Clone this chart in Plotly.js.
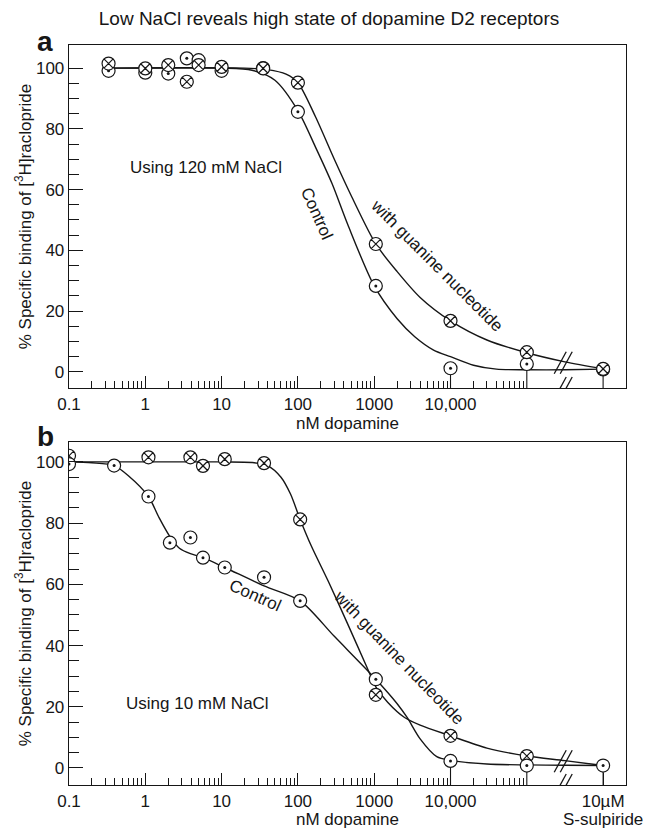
<!DOCTYPE html>
<html><head><meta charset="utf-8">
<script src="https://cdn.plot.ly/plotly-3.0.1.min.js"></script>
<style>html,body{margin:0;padding:0;background:#fff}#chart{width:650px;height:829px}</style>
</head><body><div id="chart"></div>
<script>
// ---------------- data ----------------
// Panel a (120 mM NaCl); the last dose is the 10 uM S-sulpiride point, drawn at 1e6 on the broken axis
const topDose    = [0.33, 1, 2, 3.5, 5, 10, 35, 100, 1050, 10000, 100000, 1e6];
const topControl = [99.1, 98.5, 98.2, 103.2, 102.6, 99.1, 100, 85.6, 28.3, 1.2, 2.6, 0.8];
const topGuanine = [101.5, 99.9, 101, 95.5, 101, 100.4, 99.9, 95.2, 42.1, 16.8, 6.5, 1.0];

// Panel b (10 mM NaCl)
const botDoseControl = [0.1, 0.39, 1.1, 2.1, 3.9, 5.7, 11, 36, 107, 1050, 10000, 100000, 1e6];
const botControl     = [99.3, 98.8, 88.7, 73.6, 75.3, 68.7, 65.5, 62.3, 54.6, 29.0, 2.3, 0.8, 0.8];
const botDoseGuanine = [0.1, 1.1, 3.9, 5.7, 11, 36, 107, 1050, 10000, 100000];
const botGuanine     = [102, 101.5, 101.5, 98.7, 100.9, 99.6, 81.2, 23.9, 10.5, 3.9];

// Fitted curves as drawn in the figure (waypoints)
const topCtlCurveX = [0.33, 10, 25, 50, 100, 170, 280, 450, 1000, 2000, 3400, 6000, 10000, 20000, 40000, 100000, 316000, 1e6];
const topCtlCurveY = [100, 100, 99.3, 96, 86, 74, 62, 48.5, 28.3, 17.5, 11.6, 7.2, 5, 2.2, 0.9, 0.7, 0.7, 0.9];
const topGuaCurveX = [0.33, 20, 40, 70, 100, 170, 300, 500, 1050, 2000, 4000, 10000, 30000, 100000, 316000, 1e6];
const topGuaCurveY = [100, 100, 99.5, 98, 95.2, 84, 70, 58, 42.1, 33, 24.5, 16.8, 10.5, 6.3, 3.3, 1.0];
const botCtlCurveX = [0.1, 0.2, 0.39, 0.6, 1.1, 1.5, 2.1, 2.8, 3.9, 5.7, 11, 36, 107, 300, 1050, 2000, 2700, 4000, 6600, 10000, 30000, 100000, 316000, 1e6];
const botCtlCurveY = [100, 99.7, 98.8, 95.5, 88.7, 82, 75.6, 71.8, 70, 68.7, 65.5, 59.5, 54.6, 43, 29, 21, 16.5, 9.5, 3.7, 2.5, 1.3, 1.0, 0.9, 0.8];
const botGuaCurveX = [0.1, 10, 25, 40, 60, 80, 107, 150, 250, 450, 800, 1050, 1500, 2500, 4000, 10000, 30000, 100000, 316000, 1e6];
const botGuaCurveY = [100, 100, 99.8, 98.8, 95, 89.5, 81.2, 72.5, 61, 47, 33, 26.5, 21.5, 16.5, 14, 10.5, 6.5, 3.9, 2.4, 0.8];

// Ticks
const xTickVals  = [0.1, 1, 10, 100, 1000, 10000];
const xTickText  = ['0.1', '1', '10', '100', '1000', '10,000'];
const xTickVals2 = [0.1, 1, 10, 100, 1000, 10000, 1e6];
const xTickText2 = ['0.1', '1', '10', '100', '1000', '10,000', '10\u00b5M'];
const yTickVals  = [0, 20, 40, 60, 80, 100];
const yMinorVals = [5, 10, 15, 25, 30, 35, 45, 50, 55, 65, 70, 75, 85, 90, 95];
const stemDoses  = [10000, 100000, 1e6];
const breakDose  = 3.0e5;

// ---------------- layout geometry ----------------
const W = 650, H = 829, L = 69, R = 24, T = 45, B = 44;
const PW = W - L - R, PH = H - T - B;
const topAxisPx = 388, botTopPx = 442;
const topDomain = [(H - B - topAxisPx) / PH, 1];
const botDomain = [0, (H - B - botTopPx) / PH];
const xRange = [-1, 6.3];
const yRangeTop = [-5.3, 107.6];
const yRangeBot = [-5.56, 106.5];

const minorX = [];
for (let e = -1; e <= 4; e++) for (let m = 2; m <= 9; m++) minorX.push(m * Math.pow(10, e));

const FONT = 'Liberation Sans, Arial, Helvetica, sans-serif';
const INK = '#161616';
const px = x => (x - L) / PW;
const py = y => (H - B - y) / PH;

function stems(doseLists, valLists, ymin) {
  const xs = [], ys = [];
  stemDoses.forEach(d => {
    let lo = Infinity;
    doseLists.forEach((dl, k) => dl.forEach((v, i) => { if (v === d) lo = Math.min(lo, valLists[k][i]); }));
    if (lo < Infinity) { xs.push(d, d, null); ys.push(ymin, lo, null); }
  });
  return { xs, ys };
}

const curve = (x, y, xa, ya) => ({ x, y, xaxis: xa, yaxis: ya, type: 'scatter', mode: 'lines',
  line: { color: INK, width: 1.4, shape: 'spline', smoothing: 0.8 }, hoverinfo: 'skip' });
const pts = (x, y, xa, ya, sym) => ({ x, y, xaxis: xa, yaxis: ya, type: 'scatter', mode: 'markers',
  marker: { symbol: sym, size: 13, color: 'white', line: { color: INK, width: 1.2 } }, hoverinfo: 'skip' });
const dots = (x, y, xa, ya) => ({ x, y, xaxis: xa, yaxis: ya, type: 'scatter', mode: 'markers',
  marker: { symbol: 'circle', size: 3, color: INK }, hoverinfo: 'skip' });

const sTop = stems([topDose, topDose], [topControl, topGuanine], yRangeTop[0]);
const sBot = stems([botDoseControl, botDoseGuanine], [botControl, botGuanine], yRangeBot[0]);

const data = [
  curve(topCtlCurveX, topCtlCurveY, 'x', 'y'),
  curve(topGuaCurveX, topGuaCurveY, 'x', 'y'),
  { x: sTop.xs, y: sTop.ys, xaxis: 'x', yaxis: 'y', mode: 'lines', line: { color: INK, width: 1.1 }, hoverinfo: 'skip' },
  pts(topDose, topControl, 'x', 'y', 'circle'),
  dots(topDose, topControl, 'x', 'y'),
  pts(topDose, topGuanine, 'x', 'y', 'circle-x'),

  curve(botCtlCurveX, botCtlCurveY, 'x2', 'y2'),
  curve(botGuaCurveX, botGuaCurveY, 'x2', 'y2'),
  { x: sBot.xs, y: sBot.ys, xaxis: 'x2', yaxis: 'y2', mode: 'lines', line: { color: INK, width: 1.1 }, hoverinfo: 'skip' },
  pts(botDoseGuanine, botGuanine, 'x2', 'y2', 'circle-x'),
  pts(botDoseControl, botControl, 'x2', 'y2', 'circle'),
  dots(botDoseControl, botControl, 'x2', 'y2')
];

const yTitle = '% Specific binding of [<sup>3</sup>H]raclopride';
const xTitle = 'nM dopamine';

const xCommon = {
  type: 'log', range: xRange, domain: [0, 1], tickmode: 'array',
  ticks: 'inside', ticklen: 12, tickwidth: 1, tickcolor: INK,
  showline: true, linecolor: INK, linewidth: 1.3, mirror: true,
  showgrid: false, zeroline: false,
  tickfont: { family: FONT, size: 17, color: INK },
  title: { text: xTitle, standoff: 0, font: { family: FONT, size: 17, color: INK } },
  minor: { tickmode: 'array', tickvals: minorX, ticks: 'inside', ticklen: 7, tickwidth: 1, tickcolor: INK, showgrid: false }
};
const yCommon = {
  tickmode: 'array', tickvals: yTickVals,
  ticks: 'inside', ticklen: 14, tickwidth: 1, tickcolor: INK,
  showline: true, linecolor: INK, linewidth: 1.3, mirror: true,
  showgrid: false, zeroline: false,
  tickfont: { family: FONT, size: 17, color: INK },
  title: { text: yTitle, standoff: 0, font: { family: FONT, size: 17, color: INK } },
  minor: { tickmode: 'array', tickvals: yMinorVals, ticks: 'inside', ticklen: 10, tickwidth: 1, tickcolor: INK, showgrid: false }
};

const breakX = (Math.log10(breakDose) - xRange[0]) / (xRange[1] - xRange[0]);
function breakMarks(yref, yval) {
  const out = [];
  [-3, 3].forEach(dx => out.push({ type: 'line', xref: 'paper', yref, xsizemode: 'pixel', ysizemode: 'pixel',
    xanchor: breakX, yanchor: yval, x0: dx - 6, x1: dx + 6, y0: -11, y1: 11,
    line: { color: INK, width: 1.3 } }));
  return out;
}
function axisBreak(yref, yval) {
  return [{ type: 'rect', xref: 'paper', yref, xsizemode: 'pixel', ysizemode: 'pixel',
    xanchor: breakX, yanchor: yval, x0: -2, x1: 2, y0: -2, y1: 2,
    fillcolor: 'white', line: { width: 0 } }].concat(breakMarks(yref, yval));
}

const shapes = [].concat(
  breakMarks('y', 3.0), axisBreak('y', yRangeTop[0]),
  breakMarks('y2', 2.2), axisBreak('y2', yRangeBot[0])
);

const ann = (text, x, y, o = {}) => Object.assign({ text, xref: 'paper', yref: 'paper', x: px(x), y: py(y),
  xanchor: 'center', yanchor: 'middle', showarrow: false, font: { family: FONT, size: 17, color: INK } }, o);

const annotations = [
  ann('<b>a</b>', 45, 42, { font: { family: FONT, size: 28, color: INK } }),
  ann('<b>b</b>', 45, 437, { font: { family: FONT, size: 28, color: INK } }),
  ann('S-sulpiride', 603, 819),
  ann('Using 120 mM NaCl', 206, 168),
  ann('Using 10 mM NaCl', 197, 703),
  ann('Control', 317, 213, { textangle: 66 }),
  ann('with guanine nucleotide', 437, 265, { textangle: 45 }),
  ann('Control', 255, 595, { textangle: 24 }),
  ann('with guanine nucleotide', 399, 657, { textangle: 46 })
];

const layout = {
  width: W, height: H, margin: { l: L, r: R, t: T, b: B },
  paper_bgcolor: 'white', plot_bgcolor: 'white', showlegend: false,
  font: { family: FONT, size: 17, color: INK },
  title: { text: 'Low NaCl reveals high state of dopamine D2 receptors',
    font: { family: FONT, size: 19, color: INK },
    xref: 'container', yref: 'container', x: 329 / W, xanchor: 'center', y: 1 - 18 / H, yanchor: 'middle' },
  xaxis: Object.assign({}, xCommon, { anchor: 'y', tickvals: xTickVals, ticktext: xTickText }),
  yaxis: Object.assign({}, yCommon, { anchor: 'x', domain: topDomain, range: yRangeTop }),
  xaxis2: Object.assign({}, xCommon, { anchor: 'y2', tickvals: xTickVals2, ticktext: xTickText2 }),
  yaxis2: Object.assign({}, yCommon, { anchor: 'x2', domain: botDomain, range: yRangeBot }),
  shapes, annotations
};

Plotly.newPlot('chart', data, layout, { staticPlot: true, displayModeBar: false });
</script></body></html>
